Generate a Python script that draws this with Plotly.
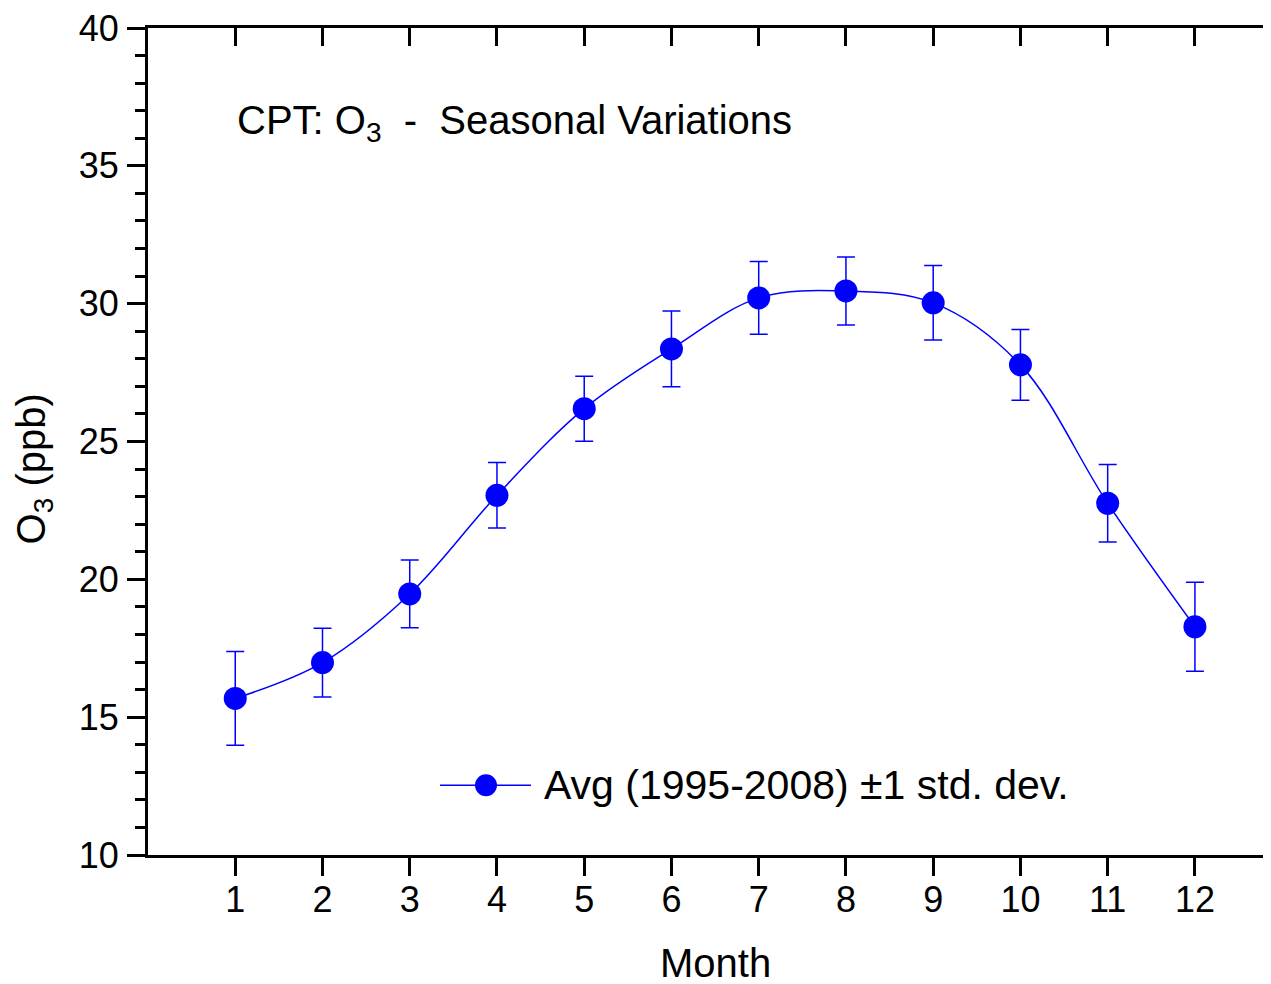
import plotly.graph_objects as go

months = [1, 2, 3, 4, 5, 6, 7, 8, 9, 10, 11, 12]
o3_avg = [15.68, 16.98, 19.47, 23.05, 26.19, 28.36, 30.21, 30.46, 30.03, 27.78, 22.76, 18.28]
o3_std = [1.70, 1.25, 1.23, 1.19, 1.18, 1.37, 1.32, 1.23, 1.35, 1.28, 1.41, 1.61]
y_ticks = [10, 15, 20, 25, 30, 35, 40]
series_name = "Avg (1995-2008) \u00b11 std. dev."

BLUE = "#0000ff"
FONT = "Liberation Sans, Arial, sans-serif"

# page body has an 8px margin: figure origin sits at (8, 8)
OFF = 8
W, H = 1271 - OFF, 984 - OFF
PL, PT, PB, PR = 148, 25, 855, 1271   # plot area in page pixels
L, T = PL - OFF, PT - OFF
B = H - (PB - OFF)
R = 0
PW, PH = PR - PL, PB - PT
X_RANGE = [0, 12.872]
Y_RANGE = [10, 40]


def px(xp):
    return (xp - PL) / PW


def py(yp):
    return (PB - yp) / PH


fig = go.Figure()

fig.add_trace(go.Scatter(
    x=months, y=o3_avg,
    mode="lines+markers",
    name=series_name,
    line=dict(color=BLUE, width=1.5, shape="spline", smoothing=1.0),
    marker=dict(color=BLUE, size=23, line=dict(width=0)),
    error_y=dict(type="data", array=o3_std, visible=True,
                 color=BLUE, thickness=1.5, width=9),
    showlegend=False,
))

# helper trace to activate the top / right frame axes
fig.add_trace(go.Scatter(x=[None], y=[None], xaxis="x2", yaxis="y2",
                         mode="markers", showlegend=False, hoverinfo="skip"))

axis_common = dict(linecolor="black", linewidth=3, tickcolor="black",
                   tickwidth=3, showgrid=False, zeroline=False,
                   ticklabeloverflow="allow",
                   tickfont=dict(family=FONT, size=36, color="black"))

fig.update_layout(
    width=W, height=H,
    margin=dict(l=L, r=R, t=T, b=B, pad=0),
    paper_bgcolor="white", plot_bgcolor="white",
    font=dict(family=FONT, color="black"),
    xaxis=dict(range=X_RANGE, tickmode="array", tickvals=months,
               ticktext=[str(m) for m in months],
               ticks="outside", ticklen=18, showline=True,
               ticklabelstandoff=-7, **axis_common),
    yaxis=dict(range=Y_RANGE, tickmode="array", tickvals=y_ticks,
               ticks="outside", ticklen=18, showline=True,
               ticklabelstandoff=1,
               minor=dict(ticks="outside", ticklen=10, tickwidth=3,
                          tickcolor="black", dtick=1, tick0=10, showgrid=False),
               **axis_common),
    xaxis2=dict(range=X_RANGE, overlaying="x", side="top", anchor="y",
                tickmode="array", tickvals=months, ticks="inside",
                ticklen=18, showticklabels=False, showline=True,
                **axis_common),
    yaxis2=dict(range=Y_RANGE, overlaying="y", side="right", anchor="x",
                tickmode="array", tickvals=y_ticks, ticks="inside",
                ticklen=8, showticklabels=False, showline=False,
                **axis_common),
)

annotations = [
    dict(text="CPT: O<sub>3</sub>  -  Seasonal Variations",
         xref="paper", yref="paper", x=px(235), y=py(120),
         xanchor="left", yanchor="middle", showarrow=False,
         font=dict(family=FONT, size=40, color="black")),
    dict(text="O<sub>3</sub> (ppb)", textangle=-90,
         xref="paper", yref="paper", x=px(34), y=py(468),
         xanchor="center", yanchor="middle", showarrow=False,
         font=dict(family=FONT, size=40, color="black")),
    dict(text="Month",
         xref="paper", yref="paper", x=px(715), y=py(963),
         xanchor="center", yanchor="middle", showarrow=False,
         font=dict(family=FONT, size=40, color="black")),
    dict(text=series_name,
         xref="paper", yref="paper", x=px(542), y=py(785),
         xanchor="left", yanchor="middle", showarrow=False,
         font=dict(family=FONT, size=41, color="black")),
]
fig.update_layout(annotations=annotations)

# legend sample (line + dot)
fig.add_shape(type="line", xref="paper", yref="paper",
              x0=px(440), x1=px(531), y0=py(785), y1=py(785),
              line=dict(color=BLUE, width=1.5))
r = 11
fig.add_shape(type="circle", xref="paper", yref="paper",
              x0=px(486 - r), x1=px(486 + r),
              y0=py(785 + r), y1=py(785 - r),
              fillcolor=BLUE, line=dict(width=0))

fig.write_html("out.html")
